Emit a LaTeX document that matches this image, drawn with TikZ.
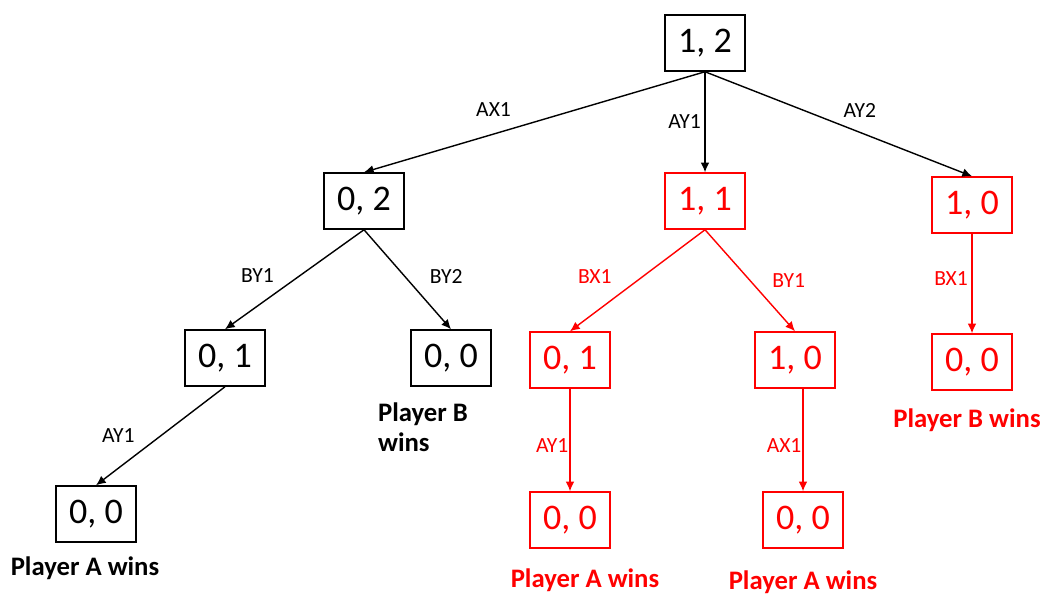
\documentclass[tikz,border=0pt]{standalone}
\usepackage{fontspec}
\setmainfont{Carlito}
\usetikzlibrary{positioning,arrows.meta}

\tikzset{
  score/.style={draw,line width=0.85pt,minimum width=1.6cm,minimum height=1.12cm,
    inner sep=0pt,font=\fontsize{20.5}{24}\selectfont},
  play/.style={font=\fontsize{12.3}{14}\selectfont},
  result/.style={font=\bfseries\fontsize{15.2}{16.8}\selectfont},
  hot/.style={draw=red,text=red}
}

\begin{document}
\begin{tikzpicture}[node distance=3cm,on grid,line width=0.8pt,
    >={Latex[length=5.5pt,width=5pt]}]
    \useasboundingbox (0,0) rectangle (20.96,-11.92);

    \node[score]     (q12) at (14.10,-0.86)                    {1, 2};
    \node[score]     (q02) [below left=3.16cm and 6.82cm of q12]  {0, 2};
    \node[score,hot] (q11) [below=3.16cm of q12]                {1, 1};
    \node[score,hot] (q10) [below right=3.24cm and 5.34cm of q12] {1, 0};

    \node[score]     (q01a) [below left=3.14cm and 2.78cm of q02]  {0, 1};
    \node[score]     (q00a) [below right=3.14cm and 1.74cm of q02] {0, 0};
    \node[score]     (q00b) [below left=3.12cm and 2.58cm of q01a] {0, 0};

    \node[score,hot] (q01b) [below left=3.18cm and 2.70cm of q11]  {0, 1};
    \node[score,hot] (q10b) [below right=3.18cm and 1.80cm of q11] {1, 0};
    \node[score,hot] (q00c) [below=3.2cm of q01b]                 {0, 0};
    \node[score,hot] (q00d) [below right=3.2cm and 0.16cm of q10b] {0, 0};
    \node[score,hot] (q00e) [below=3.14cm of q10]                 {0, 0};

    % who wins
    \node[result]              (wA1) [below left=1.08cm and 0.22cm of q00b] {Player A wins};
    \node[result,align=left]   (wB1) [below left=1.38cm and 0.56cm of q00a] {Player B\\wins};
    \node[result,text=red]     (wA2) [below right=1.2cm and 0.3cm of q00c]  {Player A wins};
    \node[result,text=red]     (wA3) [below=1.24cm of q00d]                {Player A wins};
    \node[result,text=red]     (wB2) [below left=1.16cm and 0.1cm of q00e]  {Player B wins};

    \path[->] (q12.south)  edge node[play,pos=0.62,above=6pt] {AX1} (q02.north)
              (q12.south)  edge node[play,left,inner sep=2pt]  {AY1} (q11.north)
              (q12.south)  edge node[play,pos=0.58,above=5pt] {AY2} (q10.north)
              (q02.south)  edge node[play,pos=0.5,left=8pt,yshift=2pt]  {BY1} (q01a.north)
              (q02.south)  edge node[play,pos=0.5,right=9pt,yshift=2pt] {BY2} (q00a.north)
              (q01a.south) edge node[play,pos=0.5,left=11pt] {AY1} (q00b.north);

    \path[->,red] (q11.south)  edge node[play,pos=0.5,left=11pt,yshift=2pt] {BX1} (q01b.north)
                  (q11.south)  edge node[play,pos=0.5,right=9pt] {BY1} (q10b.north)
                  (q01b.south) edge node[play,left,inner sep=0.5pt,yshift=-3pt] {AY1} (q00c.north)
                  (q10b.south -| q00d) edge node[play,left,inner sep=0.5pt,yshift=-3pt] {AX1} (q00d.north)
                  (q10.south)  edge node[play,left,inner sep=2pt,yshift=3pt] {BX1} (q00e.north);
\end{tikzpicture}
\end{document}
